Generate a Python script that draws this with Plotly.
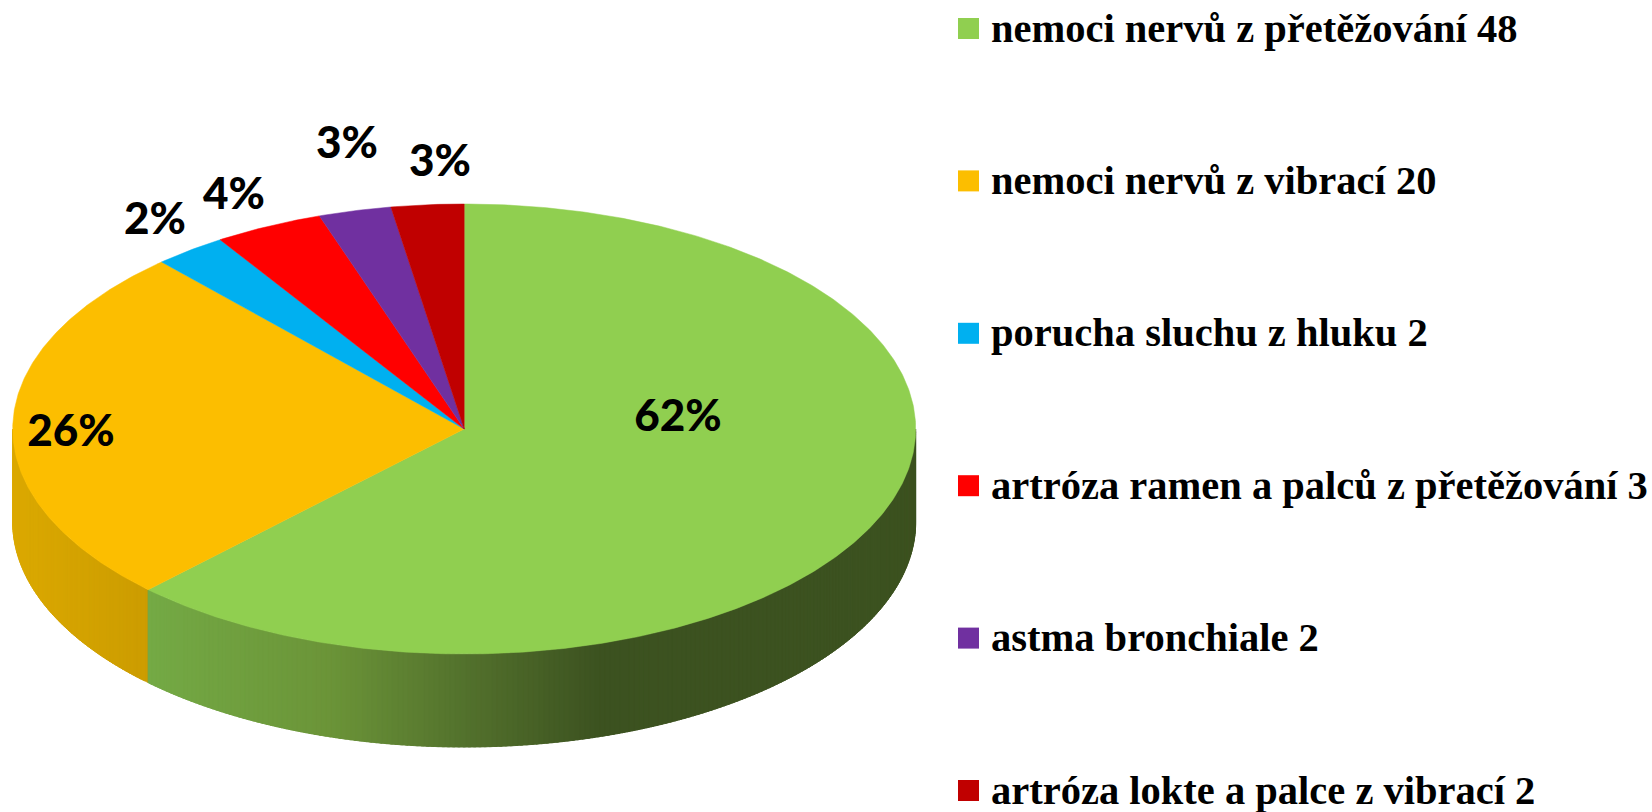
import numpy as np
import plotly.graph_objects as go

categories = ["nemoci nervů z přetěžování 48", "nemoci nervů z vibrací 20", "porucha sluchu z hluku 2",
              "artróza ramen a palců z přetěžování 3", "astma bronchiale 2", "artróza lokte a palce z vibrací 2"]
values = [48, 20, 2, 3, 2, 2]
pct_labels = ["62%", "26%", "2%", "4%", "3%", "3%"]
colors = ["#90cf50", "#fcbe00", "#00b0f0", "#ff0000", "#7030a0", "#c00000"]

CX, CY, RX, RY, DEPTH = 464.2, 429.0, 451.5, 225.0, 93.0
label_x = [678, 71, 155, 234, 347, 440]
label_y = [419.5, 434.5, 223, 197.5, 146.5, 164.5]
legend_y = [28.5, 180.9, 333.3, 485.7, 638.1, 790.5]
KEY_X, KEY_W, KEY_H, TEXT_X, TEXT_DY = 968.5, 21, 21, 991, 3

# side wall shading: (pixel x, rgb)
wall_stops = {
    0: [(148, (116, 170, 69)), (330, (107, 148, 56)), (470, (82, 112, 44)), (600, (60, 82, 32)), (920, (60, 82, 32))],
    1: [(12, (219, 169, 0)), (148, (204, 156, 0))],
}


def ell(theta_deg, dy=0.0):
    t = np.radians(np.asarray(theta_deg, dtype=float))
    return CX + RX * np.sin(t), CY - RY * np.cos(t) + dy


fig = go.Figure()
edges = np.concatenate([[0], np.cumsum(values)]) / sum(values) * 360.0

# side wall: each band overlaps the next so no seams show
for i in [1, 0]:
    a0, a1 = max(edges[i], 90.0), min(edges[i + 1], 270.0)
    if a1 <= a0:
        continue
    sx, sc = zip(*wall_stops[i])
    sc = np.array(sc, dtype=float)
    steps = np.linspace(a0, a1, int((a1 - a0) * 1.5) + 2)
    for s0, s1 in zip(steps[:-1], steps[1:]):
        end = min(s1 + 1.0, a1)
        arc = np.linspace(s0, end, 4)
        xt, yt = ell(arc)
        xb, yb = ell(arc[::-1], DEPTH)
        xm = float(ell((s0 + s1) / 2)[0])
        rgb = [int(round(np.interp(xm, sx, sc[:, k]))) for k in range(3)]
        col = f"rgb({rgb[0]},{rgb[1]},{rgb[2]})"
        fig.add_trace(go.Scatter(x=np.r_[xt, xb, xt[0]], y=np.r_[yt, yb, yt[0]], mode="lines", fill="toself",
                                 fillcolor=col, line=dict(color=col, width=0.6), hoverinfo="skip"))

# top face
for i in range(len(values)):
    arc = np.linspace(edges[i], edges[i + 1], max(int((edges[i + 1] - edges[i]) * 2), 8))
    xt, yt = ell(arc)
    fig.add_trace(go.Scatter(x=np.r_[CX, xt, CX], y=np.r_[CY, yt, CY], mode="lines", fill="toself",
                             fillcolor=colors[i], line=dict(color=colors[i], width=0.5), hoverinfo="skip"))

# percentage labels
fig.add_trace(go.Scatter(x=label_x, y=label_y, mode="text", text=pct_labels, textposition="middle center",
                         textfont=dict(family="Lato", size=44, color="#000000", weight=900),
                         hoverinfo="skip", cliponaxis=False))

# legend keys and texts
for i, y in enumerate(legend_y):
    fig.add_trace(go.Scatter(x=[KEY_X, KEY_X], y=[y - KEY_H / 2, y + KEY_H / 2], mode="lines",
                             line=dict(color=colors[i], width=KEY_W), hoverinfo="skip"))
fig.add_trace(go.Scatter(x=[TEXT_X] * 6, y=[y + TEXT_DY for y in legend_y], mode="text", text=categories,
                         textposition="middle right",
                         textfont=dict(family="Liberation Serif", size=40.5, color="#000000", weight=700),
                         hoverinfo="skip", cliponaxis=False))

fig.update_layout(
    width=1652, height=812, margin=dict(l=0, r=0, t=0, b=0), showlegend=False,
    paper_bgcolor="white", plot_bgcolor="white",
    xaxis=dict(range=[0, 1652], visible=False, fixedrange=True),
    yaxis=dict(range=[812, 0], visible=False, fixedrange=True),
)
fig.write_html("out.html", config={"displayModeBar": False},
               post_script="document.body.style.margin='0';document.body.style.overflow='hidden';")
